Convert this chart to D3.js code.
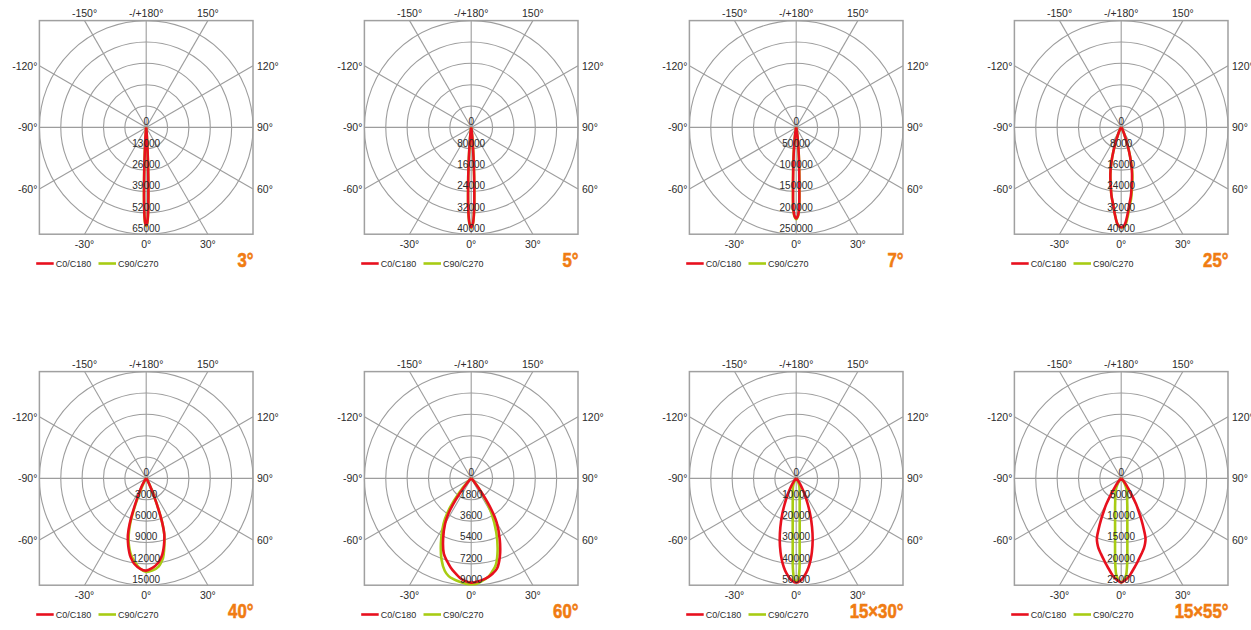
<!DOCTYPE html>
<html><head><meta charset="utf-8">
<script src="https://cdn.jsdelivr.net/npm/d3@7"></script>
<style>
body{margin:0;background:#fff;}
svg{display:block;}
.lbl{font-family:"Liberation Sans",Arial,sans-serif;fill:#2b2b2b;}
.ttl{font-family:"Liberation Sans",Arial,sans-serif;font-weight:700;fill:#f07c12;stroke:#f07c12;stroke-width:0.6;}
</style></head><body>
<svg id="chart" width="1251" height="630"></svg>
<script>
// ---------- data ----------
const panelTitles = ["3°","5°","7°","25°","40°","60°","15×30°","15×55°"];
const ringMax = [65000,40000,250000,40000,15000,9000,50000,25000];
const ringLabels = [
  ["0","13000","26000","39000","52000","65000"],
  ["0","80000","16000","24000","32000","40000"],
  ["0","50000","100000","150000","200000","250000"],
  ["0","8000","16000","24000","32000","40000"],
  ["0","3000","6000","9000","12000","15000"],
  ["0","1800","3600","5400","7200","9000"],
  ["0","10000","20000","30000","40000","50000"],
  ["0","5000","10000","15000","20000","25000"]
];
const angleTickValues = [0,30,60,90,120,150,180,-150,-120,-90,-60,-30];
const angleTickLabels = ["0°","30°","60°","90°","120°","150°","-/+180°","-150°","-120°","-90°","-60°","-30°"];
const seriesNames = ["C0/C180","C90/C270"];

// intensity (cd) per gamma angle; C0 / C90 = right half, C180 / C270 = left half
const a1 = [0,0.5,1,1.5,2,2.5,3,4,5,6,8];
const c0_1  = [59500,58500,55000,48000,38000,28000,19000,8000,3000,1000,0];
const c90_1 = [60200,59200,55800,48800,38600,28500,19400,8200,3100,1000,0];

const a2 = [0,1,2,3,4,5,6,7,8,10,12];
const c0_2  = [37400,36000,31000,22000,14000,8000,4500,2500,1200,300,0];
const c90_2 = [37600,36200,31300,22300,14200,8100,4500,2500,1200,300,0];

const a3 = [0,1,2,3,4,5,6,7,8,10,12,15];
const c0_3  = [213000,208000,190000,140000,100000,72000,50000,33000,22000,9000,3000,0];
const c90_3 = [215000,210000,194000,145000,104000,75000,52000,34000,22500,9000,3000,0];

const a4 = [0,2,4,6,8,10,12,14,16,18,20,25,30,40,50];
const c0_4  = [37500,36500,33000,29000,26000,22500,19500,16500,13000,9500,6500,2500,1000,200,0];
const c90_4 = [38000,37000,33800,29800,26800,23200,20200,17000,13300,9700,6600,2500,1000,200,0];

const a5 = [0,4,8,10,12,14,16,18,20,22,24,26,30,40,50];
const c0_5   = [12950,12600,12000,11500,10900,10100,9200,8200,6500,4300,2500,1500,600,100,0];
const c180_5 = [12950,12700,12100,11600,11000,10200,9300,8300,6800,4800,3300,2300,1200,200,0];
const c90_5  = [13150,12950,12500,12000,11400,10400,9300,8200,6500,4300,2500,1500,600,100,0];
const c270_5 = [13150,12700,11800,11300,10700,9900,9000,7800,6300,4300,2500,1500,600,100,0];

const a6 = [0,3,6,10,13,16,20,25,30,33,36,40,45,50,60];
const c0_6   = [8780,8720,8620,8420,8200,7900,7050,5700,4300,3100,1600,500,150,50,0];
const c180_6 = [8780,8680,8480,8050,7700,7300,6750,5600,4400,3500,2200,800,200,50,0];
const c90_6  = [8920,8880,8700,8400,8000,7550,6500,5000,3450,2400,1400,600,200,50,0];
const c270_6 = [8920,8880,8780,8620,8450,8100,7300,6050,4800,4050,3050,1600,500,100,0];

const a7 = [0,1,2,3,4,6,8,10,12,15,18,21,24,27,30,35,40,50,60];
const c0_7  = [48740,48600,48100,47500,46600,44500,41900,38800,35300,29800,24000,18500,13500,9500,6500,3000,1200,200,0];
const c90_7 = [48300,47500,43000,31000,23500,15600,11700,9300,7800,6200,5100,4200,3300,2400,1500,700,300,0,0];

const a8 = [0,2,3,4,5,6,8,10,12,15,18,20,22,24,26,28,30,33,36,40,50,60];
const c0_8  = [24370,23900,23600,23200,22800,22300,21300,20400,19500,18300,17200,16300,15200,13000,10800,8700,7000,4300,2500,1200,200,0];
const c90_8 = [24300,23500,22500,20000,16500,13700,10300,8200,6900,5400,4500,4000,3600,3200,2800,2400,2000,1500,1100,700,100,0];

const panels = [
  {angles:a1, c0:c0_1, c180:c0_1, c90:c90_1, c270:c90_1},
  {angles:a2, c0:c0_2, c180:c0_2, c90:c90_2, c270:c90_2},
  {angles:a3, c0:c0_3, c180:c0_3, c90:c90_3, c270:c90_3},
  {angles:a4, c0:c0_4, c180:c0_4, c90:c90_4, c270:c0_4},
  {angles:a5, c0:c0_5, c180:c180_5, c90:c90_5, c270:c270_5},
  {angles:a6, c0:c0_6, c180:c180_6, c90:c90_6, c270:c270_6},
  {angles:a7, c0:c0_7, c180:c0_7, c90:c90_7, c270:c90_7},
  {angles:a8, c0:c0_8, c180:c0_8, c90:c90_8, c270:c90_8}
];

// ---------- layout ----------
const R = 106.8;
const colX = [146.2, 471.2, 796.2, 1121.2];
const rowY = [127.4, 478.4];
const RED = "#e8101e", GREEN = "#a8cc14";

const svg = d3.select("#chart");
const aScale = d3.scaleLinear().domain([-180,180]).range([2*Math.PI, 0]); // 0° points down

function lobe(angles, right, left){
  const pts = [];
  let li = left.findIndex(v => v === 0); if (li < 0) li = angles.length-1;
  let ri = right.findIndex(v => v === 0); if (ri < 0) ri = angles.length-1;
  for (let i = li; i >= 0; i--) pts.push([-angles[i], left[i]]);
  for (let i = 1; i <= ri; i++) pts.push([angles[i], right[i]]);
  return pts;
}

panels.forEach((p, idx) => {
  const cx = colX[idx % 4], cy = rowY[Math.floor(idx / 4)];
  const g = svg.append("g").attr("transform", `translate(${cx},${cy})`);
  const rScale = d3.scaleLinear().domain([0, ringMax[idx]]).range([0, R]);

  // rings
  const ringVals = d3.range(1, 6).map(k => k * ringMax[idx] / 5);
  g.selectAll("circle.ring").data(ringVals).join("circle")
    .attr("r", d => rScale(d)).attr("fill", "none")
    .attr("stroke", "#9d9d9d").attr("stroke-width", 1.1);

  // spokes
  const ends = angleTickValues.map(t => {
    const a = aScale(t);
    const s = Math.sin(a), c = -Math.cos(a);
    const k = R / Math.max(Math.abs(s), Math.abs(c));
    return {t, x: k * s, y: k * c, s, c};
  });
  g.selectAll("line.spoke").data(ends).join("line")
    .attr("x1", 0).attr("y1", 0).attr("x2", d => d.x).attr("y2", d => d.y)
    .attr("stroke", "#9d9d9d").attr("stroke-width", 1.1);

  // frame
  g.append("rect").attr("x", -R).attr("y", -R).attr("width", 2*R).attr("height", 2*R)
    .attr("fill", "none").attr("stroke", "#a0a0a0").attr("stroke-width", 1.5);

  // angle labels
  ends.forEach((d, i) => {
    let x, y, anchor;
    if (Math.abs(d.c) >= Math.abs(d.s) - 1e-9) {
      anchor = "middle"; x = d.x;
      y = d.c < 0 ? -R - 3.2 : R + 13.5;
    } else if (d.s < 0) { anchor = "end"; x = -R - 2; y = d.y + 3.8; }
    else { anchor = "start"; x = R + 4; y = d.y + 3.8; }
    g.append("text").attr("class", "lbl").attr("x", x).attr("y", y)
      .attr("text-anchor", anchor).attr("font-size", 10.5).text(angleTickLabels[i]);
  });

  // curves
  const line = d3.lineRadial()
    .angle(d => aScale(d[0])).radius(d => rScale(d[1]))
    .curve(d3.curveCatmullRom.alpha(0.5));
  g.append("path").attr("d", line(lobe(p.angles, p.c90, p.c270)))
    .attr("fill", "none").attr("stroke", GREEN).attr("stroke-width", 2.6).attr("stroke-linejoin", "round");
  g.append("path").attr("d", line(lobe(p.angles, p.c0, p.c180)))
    .attr("fill", "none").attr("stroke", RED).attr("stroke-width", 2.6).attr("stroke-linejoin", "round");

  // ring labels
  [0, ...ringVals].forEach((v, k) => {
    g.append("text").attr("class", "lbl").attr("x", 0).attr("y", rScale(v) - 2)
      .attr("text-anchor", "middle").attr("font-size", 10).attr("fill", "#1e1e1e")
      .text(ringLabels[idx][k]);
  });

  // legend
  const ly = R + 29.3;
  [[RED, -110, seriesNames[0]], [GREEN, -47.7, seriesNames[1]]].forEach(([col, x0, name]) => {
    g.append("line").attr("x1", x0).attr("x2", x0 + 17.5).attr("y1", ly).attr("y2", ly)
      .attr("stroke", col).attr("stroke-width", 2.6);
    g.append("text").attr("class", "lbl").attr("x", x0 + 19.5).attr("y", ly + 3.3)
      .attr("font-size", 9).text(name);
  });

  // title (condensed heavy look)
  g.append("text").attr("class", "ttl")
    .attr("transform", `translate(${R + 0.5},${R + 33}) scale(0.8,1)`)
    .attr("text-anchor", "end").attr("font-size", 21).text(panelTitles[idx]);
});
</script>
</body></html>
